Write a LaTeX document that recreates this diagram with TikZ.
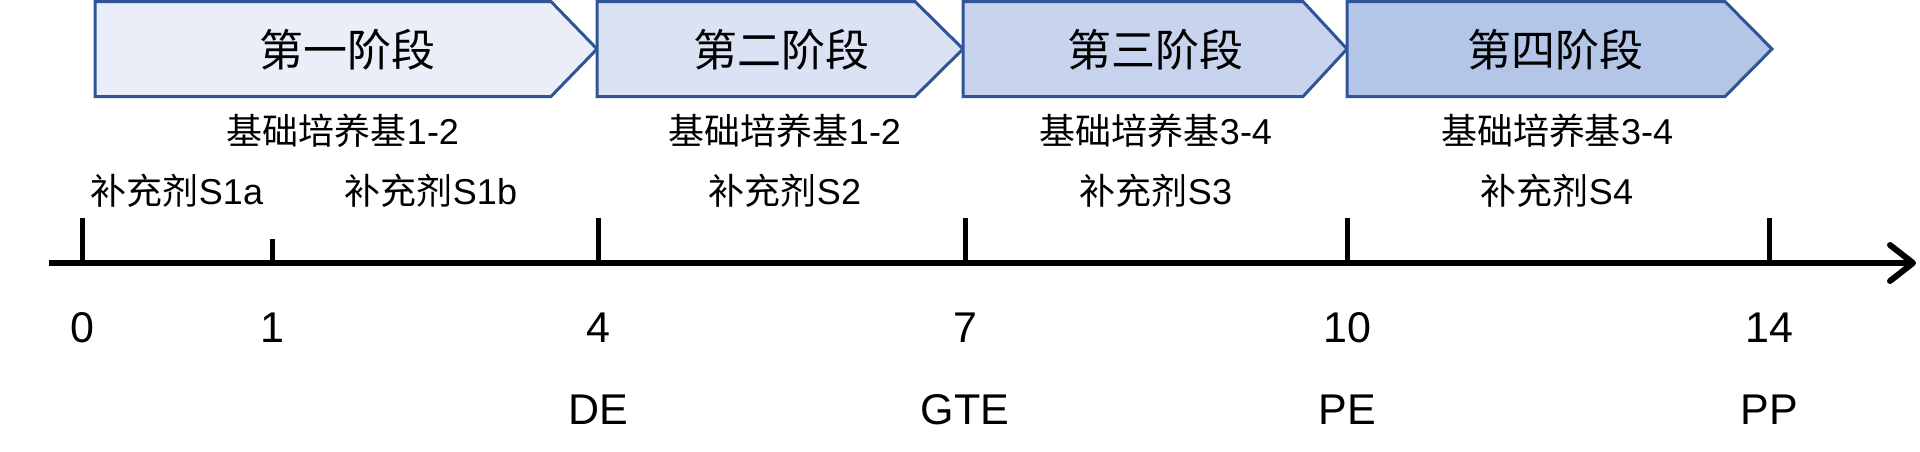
\documentclass[tikz,border=0pt]{standalone}
\usepackage{fontspec}
\setmainfont{Liberation Sans}
\newfontfamily\cjk{Noto Sans CJK SC}
\usetikzlibrary{arrows.meta}
\definecolor{edgeblue}{HTML}{2F5597}
\definecolor{fillA}{HTML}{E9EEF8}
\definecolor{fillB}{HTML}{DAE2F3}
\definecolor{fillC}{HTML}{C8D4EE}
\definecolor{fillD}{HTML}{B4C6E8}
\newcommand\zh[1]{{\cjk #1}}
\begin{document}
\begin{tikzpicture}[x=1pt,y=-1pt,
  stagebox/.style={draw=edgeblue,line width=3pt,line join=miter},
  stagetxt/.style={font=\fontsize{44}{48}\selectfont\cjk,inner sep=0pt,text height=35pt,text depth=2pt},
  lbl/.style={font=\fontsize{36}{40}\selectfont,inner sep=0pt,text height=29pt,text depth=2pt},
  axlbl/.style={font=\fontsize{43}{47}\selectfont,inner sep=0pt,text height=34pt,text depth=2pt},
  tickline/.style={line width=5pt},
  axisline/.style={line width=6pt,-{Straight Barb[round,length=23pt,width=36pt]}}]
\useasboundingbox (0,0) rectangle (1920,451);
% stage arrows
\draw[stagebox,fill=fillA] (95,1.5) -- (551,1.5) -- (597,49) -- (551,96.5) -- (95,96.5) -- cycle;
\draw[stagebox,fill=fillB] (597,1.5) -- (915,1.5) -- (963,49) -- (915,96.5) -- (597,96.5) -- cycle;
\draw[stagebox,fill=fillC] (963,1.5) -- (1303,1.5) -- (1347,49) -- (1303,96.5) -- (963,96.5) -- cycle;
\draw[stagebox,fill=fillD] (1347,1.5) -- (1725,1.5) -- (1772,49) -- (1725,96.5) -- (1347,96.5) -- cycle;
\node[stagetxt] (s1) at (347,50) {第一阶段};
\node[stagetxt] (s2) at (781,50) {第二阶段};
\node[stagetxt] (s3) at (1155,50) {第三阶段};
\node[stagetxt] (s4) at (1555,50) {第四阶段};
% media and supplements
\node[lbl] (m1) at (343,131) {\zh{基础培养基}1-2};
\node[lbl] (m2) at (785,131) {\zh{基础培养基}1-2};
\node[lbl] (m3) at (1156,131) {\zh{基础培养基}3-4};
\node[lbl] (m4) at (1557,131) {\zh{基础培养基}3-4};
\node[lbl] (p1a) at (177,191) {\zh{补充剂}S1a};
\node[lbl] (p1b) at (431,191) {\zh{补充剂}S1b};
\node[lbl] (p2) at (785,191) {\zh{补充剂}S2};
\node[lbl] (p3) at (1156,191) {\zh{补充剂}S3};
\node[lbl] (p4) at (1557,191) {\zh{补充剂}S4};
% axis
\coordinate (axL) at (49,263);
\coordinate (axR) at (1916,263);
\draw[axisline] (axL) -- (axR);
\foreach \n/\x/\t in {t0/82/218,t1/272/239,t4/598/218,t7/965/218,t10/1347/218,t14/1769/218}{
  \coordinate (\n top) at (\x,\t);
  \coordinate (\n bot) at (\x,263);
  \draw[tickline] (\n top) -- (\n bot);
}
\node[axlbl] (n0) at (82,326) {0};
\node[axlbl] (n1) at (272,326) {1};
\node[axlbl] (n4) at (598,326) {4};
\node[axlbl] (n7) at (965,326) {7};
\node[axlbl] (n10) at (1347,326) {10};
\node[axlbl] (n14) at (1769,326) {14};
\node[axlbl] (de) at (598,408) {DE};
\node[axlbl] (gte) at (965,408) {GTE};
\node[axlbl] (pe) at (1347,408) {PE};
\node[axlbl] (pp) at (1769,408) {PP};
\end{tikzpicture}
\end{document}
